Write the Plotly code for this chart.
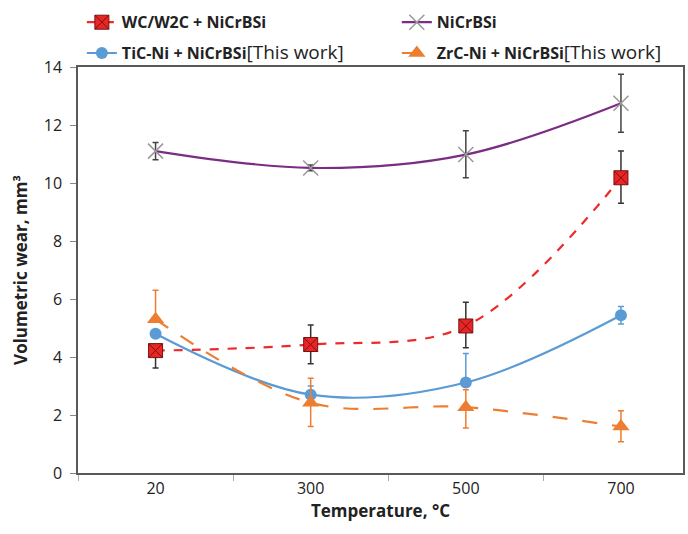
import plotly.graph_objects as go

temps = ["20", "300", "500", "700"]

wc = [4.22, 4.43, 5.07, 10.18]
wc_up = [0.0, 0.67, 0.82, 0.92]
wc_dn = [0.6, 0.66, 0.75, 0.88]

ni = [11.1, 10.52, 10.98, 12.75]
ni_up = [0.3, 0.1, 0.82, 1.0]
ni_dn = [0.3, 0.1, 0.8, 1.0]

tic = [4.8, 2.7, 3.12, 5.44]
tic_up = [0.0, 0.3, 1.0, 0.3]
tic_dn = [0.0, 0.3, 0.0, 0.3]

zrc = [5.3, 2.42, 2.27, 1.6]
zrc_up = [1.0, 0.85, 0.6, 0.55]
zrc_dn = [0.0, 0.82, 0.72, 0.52]

FONT = "Open Sans, sans-serif"

fig = go.Figure()

def add(name, y, up, dn, color, dash, symbol, msize, mcolor, ecolor, legend, group, mline=None):
    fig.add_trace(go.Scatter(
        x=temps, y=y, name=name, mode="lines+markers",
        line=dict(color=color, width=2.2, dash=dash, shape="spline", smoothing=1.0),
        marker=dict(symbol=symbol, size=msize, color=mcolor,
                    line=mline if mline else dict(width=0)),
        error_y=dict(type="data", symmetric=False, array=up, arrayminus=dn,
                     color=ecolor, thickness=1.5, width=3),
        legend=legend, legendgroup=group,
    ))

add("<b>WC/W2C + NiCrBSi</b>", wc, wc_up, wc_dn, "#EE2A2A", "dash", "square-x", 14, "#E82626",
    "#333333", "legend", "g1", dict(width=1, color="#7a1010"))
add("<b>TiC-Ni + NiCrBSi</b><span style='font-size:19px'>[This work]</span>", tic, tic_up, tic_dn,
    "#5B9BD5", "solid", "circle", 12, "#5B9BD5", "#5B9BD5", "legend", "g2")
add("<b>NiCrBSi</b>", ni, ni_up, ni_dn, "#7B2C83", "solid", "x-thin-open", 15, "#999999",
    "#444444", "legend2", "g3", dict(width=1.5, color="#999999"))
add("<b>ZrC-Ni + NiCrBSi</b><span style='font-size:19px'>[This work]</span>", zrc, zrc_up, zrc_dn,
    "#ED7D31", "longdash", "triangle-up", 15, "#ED7D31", "#ED7D31", "legend2", "g4")

leg_common = dict(xref="paper", yref="paper", y=1.152, yanchor="top", xanchor="left",
                  tracegroupgap=7, bgcolor="rgba(0,0,0,0)",
                  font=dict(size=16, family=FONT), itemwidth=30)

fig.update_layout(
    width=688, height=534,
    margin=dict(l=78, r=5, t=64, b=61),
    paper_bgcolor="white", plot_bgcolor="white",
    font=dict(family=FONT, size=16, color="#222222"),
    showlegend=True,
    legend=dict(x=0.0064, **leg_common),
    legend2=dict(x=0.527, **leg_common),
    xaxis=dict(
        type="category", range=[-0.5, 3.4], automargin=False,
        showline=True, linecolor="#595959", linewidth=2, mirror=True,
        ticks="outside", tickson="boundaries", ticklen=6, tickcolor="#aaaaaa",
        tickfont=dict(size=16, color="#222222"),
        title=dict(text="<b>Temperature, °C</b>", font=dict(size=17), standoff=6),
        showgrid=False,
    ),
    yaxis=dict(
        range=[0, 14], dtick=2, automargin=False,
        showline=True, linecolor="#595959", linewidth=1.5, mirror=True,
        ticks="outside", ticklen=6, tickcolor="#888888", ticklabelstandoff=5,
        tickfont=dict(size=16, color="#222222"),
        title=dict(text="<b>Volumetric wear, mm³</b>", font=dict(size=17), standoff=12),
        showgrid=False, zeroline=False,
    ),
)

fig.write_html("out.html", config={"displayModeBar": False},
               post_script="document.body.style.margin='0';")
